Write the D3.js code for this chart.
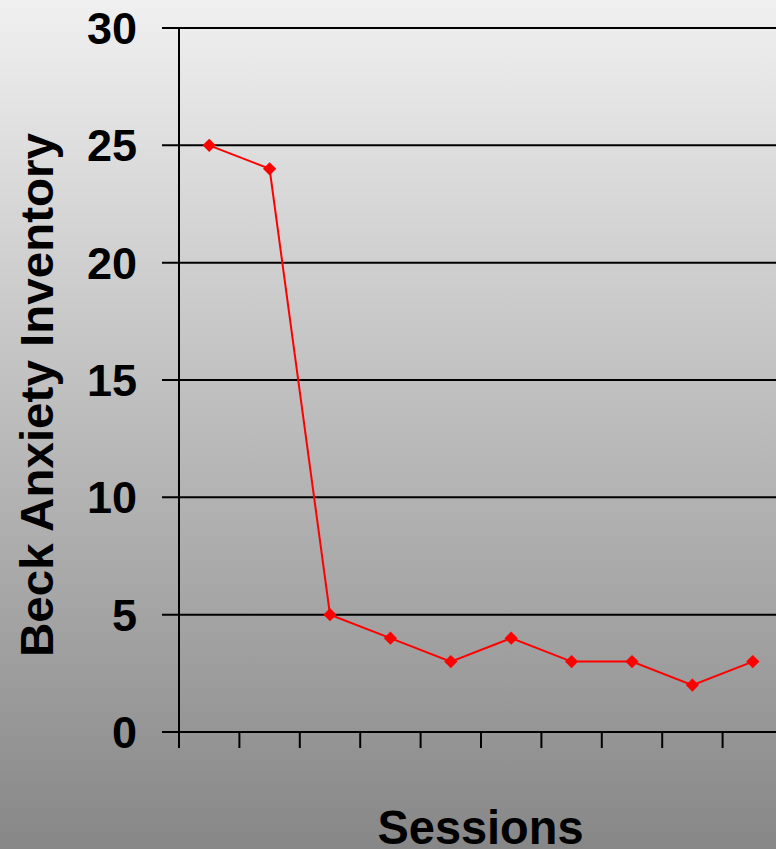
<!DOCTYPE html>
<html>
<head>
<meta charset="utf-8">
<script src="https://cdn.jsdelivr.net/npm/d3@7"></script>
<style>
  html, body { margin: 0; padding: 0; overflow: hidden; }
  svg { display: block; }
</style>
</head>
<body>
<svg id="chart" width="776" height="849"></svg>
<script>
// Beck Anxiety Inventory score per therapy session
const sessions = [1, 2, 3, 4, 5, 6, 7, 8, 9, 10];
const baiScores = [25, 24, 5, 4, 3, 4, 3, 3, 2, 3];
const yTicks = [0, 5, 10, 15, 20, 25, 30];
const yTitle = "Beck Anxiety Inventory";
const xTitle = "Sessions";

const W = 776, H = 849;
const plot = { left: 179, top: 28, bottom: 732, right: 783 };

const svg = d3.select("#chart");

// background gradient, light at the top, darker at the bottom
const defs = svg.append("defs");
const grad = defs.append("linearGradient")
  .attr("id", "bg").attr("x1", 0).attr("y1", 0).attr("x2", 0).attr("y2", 1);
grad.append("stop").attr("offset", "0%").attr("stop-color", "#f0f0f0");
grad.append("stop").attr("offset", "100%").attr("stop-color", "#878787");
svg.append("rect").attr("width", W).attr("height", H).attr("fill", "url(#bg)");

const x = d3.scaleBand().domain(sessions).range([plot.left, plot.right]).padding(0);
const y = d3.scaleLinear().domain([0, 30]).range([plot.bottom, plot.top]);

// horizontal gridlines with short outside ticks
svg.append("g")
  .selectAll("line")
  .data(yTicks)
  .join("line")
  .attr("x1", plot.left - 17)
  .attr("x2", W + 10)
  .attr("y1", d => y(d))
  .attr("y2", d => y(d))
  .attr("stroke", "#000")
  .attr("stroke-width", 2);

// y tick labels
svg.append("g")
  .selectAll("text")
  .data(yTicks)
  .join("text")
  .attr("x", 137)
  .attr("y", d => y(d) + 16)
  .attr("text-anchor", "end")
  .attr("font-family", "'Liberation Sans', Arial, sans-serif")
  .attr("font-weight", "bold")
  .attr("font-size", 45)
  .attr("fill", "#000")
  .text(d => d);

// vertical axis line
svg.append("line")
  .attr("x1", plot.left).attr("x2", plot.left)
  .attr("y1", plot.top).attr("y2", plot.bottom + 16)
  .attr("stroke", "#000").attr("stroke-width", 2);

// x axis ticks at category boundaries
const bounds = sessions.map(s => x(s)).concat([x(sessions[sessions.length - 1]) + x.bandwidth()]);
svg.append("g")
  .selectAll("line")
  .data(bounds)
  .join("line")
  .attr("x1", d => d).attr("x2", d => d)
  .attr("y1", plot.bottom).attr("y2", plot.bottom + 16)
  .attr("stroke", "#000").attr("stroke-width", 2);

// data line
const cx = d => x(d) + x.bandwidth() / 2;
const pts = sessions.map((s, i) => [cx(s), y(baiScores[i])]);
svg.append("path")
  .attr("d", d3.line()(pts))
  .attr("fill", "none")
  .attr("stroke", "#ff0000")
  .attr("stroke-width", 2);

// diamond markers
const diamond = d3.symbol().type(d3.symbolSquare).size(88);
svg.append("g")
  .selectAll("path")
  .data(pts)
  .join("path")
  .attr("d", diamond)
  .attr("transform", d => `translate(${d[0]},${d[1]}) rotate(45)`)
  .attr("fill", "#ff0000");

// axis titles
svg.append("text")
  .attr("transform", "translate(53,395) rotate(-90)")
  .attr("text-anchor", "middle")
  .attr("font-family", "'Liberation Sans', Arial, sans-serif")
  .attr("font-weight", "bold")
  .attr("font-size", 47)
  .attr("textLength", 524)
  .attr("lengthAdjust", "spacingAndGlyphs")
  .attr("fill", "#000")
  .text(yTitle);

svg.append("text")
  .attr("x", 480.5)
  .attr("y", 844)
  .attr("text-anchor", "middle")
  .attr("font-family", "'Liberation Sans', Arial, sans-serif")
  .attr("font-weight", "bold")
  .attr("font-size", 48)
  .attr("textLength", 206)
  .attr("lengthAdjust", "spacingAndGlyphs")
  .attr("fill", "#000")
  .text(xTitle);
</script>
</body>
</html>
